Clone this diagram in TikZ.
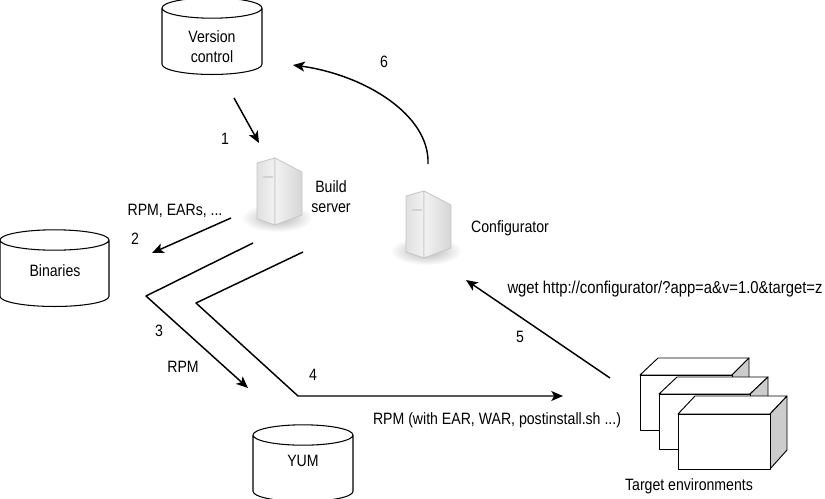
\documentclass[tikz,border=0pt]{standalone}
\usepackage{fontspec}
\setmainfont[FakeStretch=0.86]{Liberation Sans}
\usetikzlibrary{shapes.geometric,arrows.meta}
\tikzset{
  store/.style={draw, line width=0.9pt, cylinder, shape border rotate=90, aspect=0.4, minimum width=3cm, minimum height=2.3cm, inner sep=0pt},
  lbl/.style={inner sep=0pt, align=center},
  envside/.style={draw, line width=0.8pt, fill=gray!40},
  envfront/.style={draw, line width=0.8pt, fill=white},
  pics/servericon/.style={code={
    \shade[inner color=gray!60, outer color=white] (20,60) ellipse (36 and 14);
    \shade[left color=gray!24, right color=gray!10, draw=gray!45, line width=0.7pt] (0,5) -- (18,0) -- (18,67) -- (0,61) -- cycle;
    \shade[left color=gray!10, right color=gray!32, draw=gray!45, line width=0.7pt] (18,0) -- (45,14) -- (45,57) -- (18,67) -- cycle;
    \fill[gray!35] (6,18) rectangle (16,20);
  }}
}
\begin{document}
\begin{tikzpicture}[x=0.03cm, y=-0.03cm, font=\fontsize{14}{17}\selectfont, line join=round, >={Stealth[length=10pt,width=8.5pt,inset=2.5pt]}, line width=1.25pt]
\useasboundingbox (0,0) rectangle (825,498);
% stores
\node[store] (vcs) at (212,41.5) {\phantom{Binaries}};
\node[store, minimum width=3.27cm] (binaries) at (54.5,273.5) {\phantom{Binaries}};
\node[store] (yum) at (303,468.5) {\phantom{Binaries}};
\node[lbl] (vcslbl) at (212,47) {Version\\control};
\node[lbl] (binlbl) at (55,271) {Binaries};
\node[lbl] (yumlbl) at (303,461) {YUM};
% servers
\pic at (257,158) {servericon};
\pic at (406,191) {servericon};
\node[lbl] (buildlbl) at (331,197) {Build\\server};
\node[lbl] (conflbl) at (510,228) {Configurator};
% target environments
\draw[envfront] (640,375) -- (658,358) -- (749,358) -- (732,375) -- cycle;
\draw[envside] (732,375) -- (749,358) -- (749,413) -- (732,430) -- cycle;
\draw[envfront] (640,375) rectangle (732,430);
\draw[envfront] (659,394) -- (677,377) -- (768,377) -- (750,394) -- cycle;
\draw[envside] (750,394) -- (768,377) -- (768,432) -- (750,449) -- cycle;
\draw[envfront] (659,394) rectangle (750,449);
\draw[envfront] (678,414) -- (695,396) -- (787,396) -- (770,414) -- cycle;
\draw[envside] (770,414) -- (787,396) -- (787,450) -- (770,469) -- cycle;
\draw[envfront] (678,414) rectangle (770,469);
\node[lbl] (targetlbl) at (689,486) {Target environments};
% arrow ends
\coordinate (a1) at (234,98);
\coordinate (b1) at (259,143);
\coordinate (a2) at (231,218);
\coordinate (b2) at (152,253);
\coordinate (a3) at (253,243);
\coordinate (m3) at (146,296);
\coordinate (b3) at (248,388);
\coordinate (a4) at (303,252);
\coordinate (m4) at (196,303);
\coordinate (n4) at (298,396);
\coordinate (b4) at (563,396);
\coordinate (a5) at (610,378);
\coordinate (b5) at (466,280);
\coordinate (a6) at (428,164);
\coordinate (b6) at (293,65);
\draw[->] (a1) -- (b1);
\draw[->] (a2) -- (b2);
\draw[->] (a3) -- (m3) -- (b3);
\draw[->] (a4) -- (m4) -- (n4) -- (b4);
\draw[->] (a5) -- (b5);
\draw[->] (a6) .. controls (430,115) and (365,75) .. (b6);
% labels
\node[lbl] (n1) at (225,139) {1};
\node[lbl] (n2) at (135,239) {2};
\node[lbl] (n3) at (159,331) {3};
\node[lbl] (n4lbl) at (313,375) {4};
\node[lbl] (n5) at (520,337) {5};
\node[lbl] (n6) at (384,62) {6};
\node[lbl] (rpmears) at (175,211) {RPM, EARs, ...};
\node[lbl] (rpm) at (183,367) {RPM};
\node[lbl] (rpmwith) at (497,420) {RPM (with EAR, WAR, postinstall.sh ...)};
\node[lbl, font=\fontsize{14.7}{17}\selectfont] (wget) at (665,289) {wget http://configurator/?app=a\&v=1.0\&target=z};
\end{tikzpicture}
\end{document}
